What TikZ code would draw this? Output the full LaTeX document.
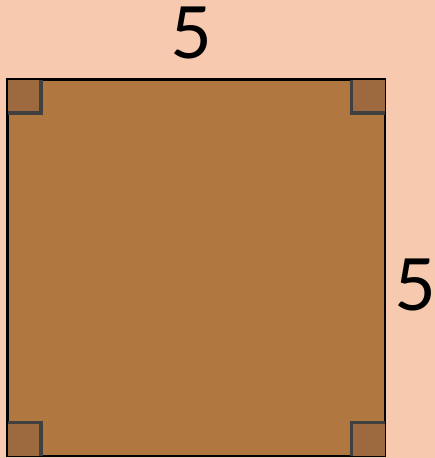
\documentclass[tikz,border=0pt]{standalone}
\usepackage{fontspec}
\setmainfont{Lato}
\definecolor{bgpeach}{RGB}{247,201,174}
\definecolor{sqbrown}{RGB}{176,120,64}
\definecolor{markbrown}{RGB}{156,106,62}
\definecolor{markgray}{RGB}{64,64,64}
\begin{document}
\begin{tikzpicture}[x=1pt,y=-1pt,
  sqstyle/.style={fill=sqbrown,draw=black,line width=1.6pt},
  lbl/.style={font=\fontsize{72}{72}\selectfont,text=black,inner sep=0pt}]
\fill[bgpeach] (0,0) rectangle (435,458);
\useasboundingbox (0,0) rectangle (435,458);
\node[sqstyle,minimum width=377pt,minimum height=376pt,inner sep=0pt,anchor=north west] (sq) at (7,79) {};
\fill[markbrown] (sq.north west) rectangle ++(34,34);
\draw[markgray,line width=3.5pt] ([xshift=34pt]sq.north west) |- ([yshift=-34pt]sq.north west);
\fill[markbrown] (sq.north east) rectangle ++(-34,34);
\draw[markgray,line width=3.5pt] ([xshift=-34pt]sq.north east) |- ([yshift=-34pt]sq.north east);
\fill[markbrown] (sq.south west) rectangle ++(34,-34);
\draw[markgray,line width=3.5pt] ([xshift=34pt]sq.south west) |- ([yshift=34pt]sq.south west);
\fill[markbrown] (sq.south east) rectangle ++(-34,-34);
\draw[markgray,line width=3.5pt] ([xshift=-34pt]sq.south east) |- ([yshift=34pt]sq.south east);
\draw[black,line width=1.6pt] (sq.north west) rectangle (sq.south east);
\node[lbl] (top) at (191,33) {5};
\node[lbl] (right) at (415,285) {5};
\end{tikzpicture}
\end{document}
